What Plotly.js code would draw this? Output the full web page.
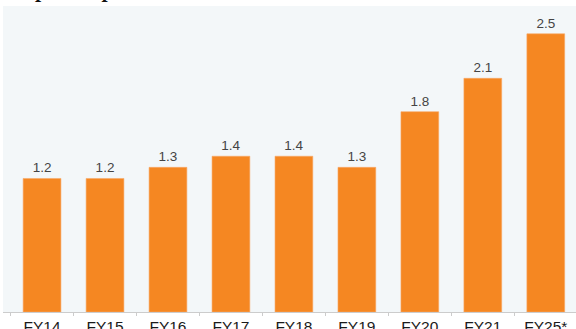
<!DOCTYPE html>
<html>
<head>
<meta charset="utf-8">
<script src="https://cdn.plot.ly/plotly-3.0.1.min.js"></script>
<style>html,body{margin:0;padding:0;background:#fff;}#chart{width:576px;height:329px;}</style>
</head>
<body>
<div id="chart"></div>
<script>
const categories = ["FY14", "FY15", "FY16", "FY17", "FY18", "FY19", "FY20", "FY21", "FY25*"];
const values = [1.2, 1.2, 1.3, 1.4, 1.4, 1.3, 1.8, 2.1, 2.5];
const valueLabels = ["1.2", "1.2", "1.3", "1.4", "1.4", "1.3", "1.8", "2.1", "2.5"];
const titleText = "Capital expenditure";

const trace = {
  type: "bar",
  x: categories,
  y: values,
  text: valueLabels,
  textposition: "outside",
  cliponaxis: false,
  textfont: {family: "Liberation Sans, Arial, sans-serif", size: 13.5, color: "#444"},
  marker: {color: "#F58722", line: {color: "#F8A867", width: 0.6}},
  width: 0.6,
  hoverinfo: "none"
};

const layout = {
  width: 576, height: 329,
  margin: {l: 3, r: 0, t: 6, b: 17},
  paper_bgcolor: "#ffffff",
  plot_bgcolor: "#F3F7F9",
  showlegend: false,
  xaxis: {
    type: "category",
    range: [-0.62, 8.48],
    showline: true, linecolor: "#cccccc", linewidth: 1,
    ticks: "outside", ticklen: 3, tickcolor: "#cccccc", tickson: "boundaries",
    tickfont: {family: "Liberation Sans, Arial, sans-serif", size: 15.5, color: "#1a1a1a"},
    showgrid: false, zeroline: false, fixedrange: true
  },
  yaxis: {
    range: [0, 2.75],
    visible: false, showgrid: false, zeroline: false, fixedrange: true
  },
  annotations: [{
    text: "<b><i>" + titleText + "</i></b>",
    xref: "paper", yref: "paper",
    x: 0.01, y: 1.0, xanchor: "left", yanchor: "bottom", yshift: 2,
    showarrow: false,
    font: {family: "Liberation Serif, Times New Roman, serif", size: 22, color: "#111"}
  }]
};

Plotly.newPlot("chart", [trace], layout, {displayModeBar: false, staticPlot: true});
</script>
</body>
</html>
